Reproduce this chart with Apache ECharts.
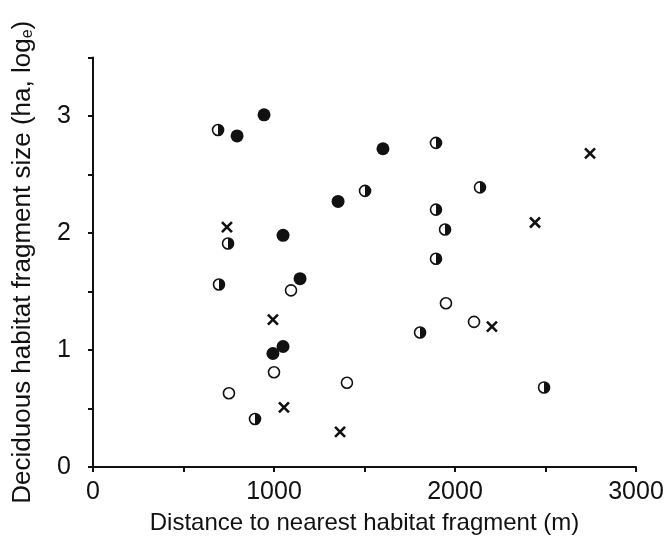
<!DOCTYPE html>
<html>
<head>
<meta charset="utf-8">
<script src="https://cdn.jsdelivr.net/npm/echarts@6/dist/echarts.min.js"></script>
<style>
  html, body { margin: 0; padding: 0; background: #fff; }
  #chart { width: 668px; height: 548px; }
</style>
</head>
<body>
<div id="chart"></div>
<script>
// distance (m), fragment size (ha, log e)
var filledPts = [[796, 2.83], [945, 3.01], [1602, 2.72], [1354, 2.27], [1050, 1.98], [1144, 1.61], [994, 0.97], [1050, 1.03]];
var halfPts = [[691, 2.88], [1503, 2.36], [746, 1.91], [696, 1.56], [895, 0.41], [1895, 2.77], [2138, 2.39], [1895, 2.20], [1945, 2.03], [1895, 1.78], [1807, 1.15], [2492, 0.68]];
var openPts = [[1094, 1.51], [1000, 0.81], [751, 0.63], [1403, 0.72], [1950, 1.40], [2105, 1.24]];
var crossPts = [[740, 2.05], [994, 1.26], [1055, 0.51], [1365, 0.30], [2746, 2.68], [2442, 2.09], [2204, 1.20]];
var xTicks = [0, 1000, 2000, 3000];
var yTicks = [0, 1, 2, 3];

var myChart = echarts.init(document.getElementById("chart"));
var font = "Liberation Sans";

var option = {
  animation: false,
  grid: { left: 93, right: 32, top: 57.5, bottom: 81, containLabel: false },
  xAxis: {
    type: "value",
    min: 0,
    max: 3000,
    interval: 500,
    name: "Distance to nearest habitat fragment (m)",
    nameLocation: "middle",
    nameGap: 44,
    nameTextStyle: { color: "#111", fontSize: 24, fontFamily: font },
    axisLine: { show: true, lineStyle: { color: "#111", width: 2 } },
    axisTick: { show: true, length: 5, lineStyle: { color: "#111", width: 2 } },
    axisLabel: {
      color: "#111",
      fontSize: 25,
      fontFamily: font,
      margin: 13,
      formatter: function (v) { return xTicks.indexOf(v) >= 0 ? String(v) : ""; }
    },
    splitLine: { show: false }
  },
  yAxis: {
    type: "value",
    min: 0,
    max: 3.5,
    interval: 0.5,
    name: "Deciduous habitat fragment size (ha, log{sub|e})",
    nameLocation: "middle",
    nameGap: 57,
    nameTextStyle: {
      color: "#111",
      fontSize: 26,
      fontFamily: font,
      rich: {
        sub: { fontSize: 16, fontFamily: font, color: "#111", verticalAlign: "bottom", padding: [10, 0, 0, 0] }
      }
    },
    axisLine: { show: true, lineStyle: { color: "#111", width: 2 } },
    axisTick: { show: true, length: 5, lineStyle: { color: "#111", width: 2 } },
    axisLabel: {
      color: "#111",
      fontSize: 25,
      fontFamily: font,
      margin: 22,
      formatter: function (v) { return yTicks.indexOf(v) >= 0 ? String(v) : ""; }
    },
    splitLine: { show: false }
  },
  series: [
    {
      type: "scatter",
      data: openPts,
      symbol: "circle",
      symbolSize: 11,
      itemStyle: { color: "#fff", borderColor: "#111", borderWidth: 1.6, opacity: 1 }
    },
    {
      type: "scatter",
      data: halfPts,
      symbol: "circle",
      symbolSize: 11,
      itemStyle: {
        color: new echarts.graphic.LinearGradient(0, 0, 1, 0, [
          { offset: 0, color: "#fff" },
          { offset: 0.5, color: "#fff" },
          { offset: 0.5, color: "#111" },
          { offset: 1, color: "#111" }
        ]),
        borderColor: "#111",
        borderWidth: 1.6,
        opacity: 1
      }
    },
    {
      type: "scatter",
      data: filledPts,
      symbol: "circle",
      symbolSize: 13,
      itemStyle: { color: "#111", opacity: 1 }
    },
    {
      type: "scatter",
      data: crossPts,
      symbol: "path://M0,0 L10,10 M10,0 L0,10",
      symbolSize: 10,
      itemStyle: { color: "none", borderColor: "#111", borderWidth: 2.6, opacity: 1 }
    }
  ]
};

myChart.setOption(option);

window.addEventListener("resize", function () {
  myChart.resize();
});
</script>
</body>
</html>
